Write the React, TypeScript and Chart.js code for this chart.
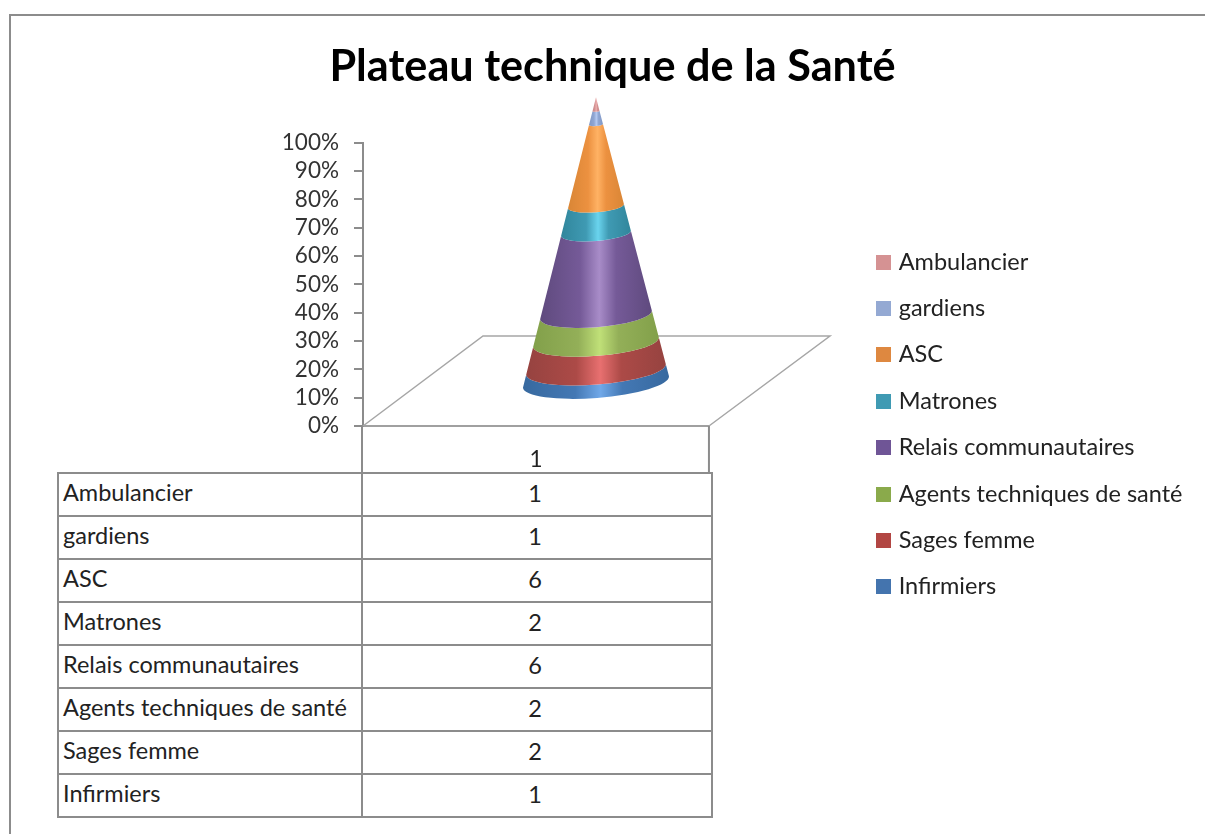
import React, { useEffect, useRef } from "react";
import { Chart, registerables } from "chart.js";

Chart.register(...registerables);

const chartTitle = "Plateau technique de la Santé";
const categoryLabels = ["1"];
// top-to-bottom, as in the table and legend
const roles = ["Ambulancier", "gardiens", "ASC", "Matrones", "Relais communautaires", "Agents techniques de santé", "Sages femme", "Infirmiers"];
const counts = [1, 1, 6, 2, 6, 2, 2, 1];
const legendColors = ["#D59293", "#94A9D3", "#DE8840", "#3F9AB3", "#6F5596", "#8AAA4B", "#B24643", "#4474AE"];
const edgeColors = ["#C98A8A", "#8097C4", "#D98636", "#31869C", "#5F4A7E", "#82A04A", "#964340", "#37699F"];
const midColors = ["#D59293", "#8FA6D3", "#EC9140", "#3F9AB3", "#755A98", "#93AF58", "#AC4A47", "#4478B4"];
const lightColors = ["#F0B4B4", "#B4C8F0", "#FFB264", "#6AD4EE", "#A88CC8", "#C0E078", "#E87070", "#70A8E8"];

const total = counts.reduce((a, b) => a + b, 0);
const GRAY = "#8c8c8c";

const swatch = (color: string) => {
  const c = document.createElement("canvas");
  c.width = 15;
  c.height = 15;
  const g = c.getContext("2d")!;
  g.fillStyle = color;
  g.fillRect(0, 0, 15, 15);
  return c;
};

const conePlugin = {
  id: "cone3d",
  beforeDatasetsDraw(chart: any) {
    const { ctx, scales } = chart;
    const x = scales.x, y = scales.y;
    const y0 = y.getPixelForValue(0);
    ctx.save();
    ctx.strokeStyle = "#a6a6a6";
    ctx.lineWidth = 1.5;
    ctx.beginPath();
    ctx.moveTo(x.left, y0);
    ctx.lineTo(x.left + 120, y0 - 90);
    ctx.lineTo(x.right + 121, y0 - 90);
    ctx.lineTo(x.right, y0);
    ctx.stroke();
    ctx.strokeStyle = GRAY;
    ctx.lineWidth = 2;
    ctx.beginPath();
    ctx.moveTo(x.left - 1, y0);
    ctx.lineTo(x.left - 1, y0 + 47);
    ctx.moveTo(x.right, y0);
    ctx.lineTo(x.right, y0 + 47);
    ctx.stroke();
    ctx.restore();
  },
  beforeDatasetDraw() {
    return false;
  },
  afterDatasetsDraw(chart: any) {
    const { ctx, scales } = chart;
    const y = scales.y;
    const n = chart.data.datasets.length;
    const y0 = y.getPixelForValue(0);
    const unit = y0 - y.getPixelForValue(100);
    const rot = -0.078;
    const halfW = 73.5;
    const halfD = 16;
    const level = (px: number, cx: number) => {
      const t = (y0 - px) / unit;
      return { cx, cy: px - 43 - 2.5 * t, a: halfW * (1 - t), b: halfD * (1 - t) };
    };
    for (let i = 0; i < n; i++) {
      const bar = chart.getDatasetMeta(i).data[0];
      const cx = bar.x + 60;
      const lo = level(bar.base, cx);
      const hi = level(bar.y, cx);
      const src = n - 1 - i;
      const g = ctx.createLinearGradient(cx - lo.a, 0, cx + lo.a, 0);
      g.addColorStop(0, edgeColors[src]);
      g.addColorStop(0.36, midColors[src]);
      g.addColorStop(0.53, lightColors[src]);
      g.addColorStop(0.68, midColors[src]);
      g.addColorStop(1, edgeColors[src]);
      ctx.save();
      ctx.fillStyle = g;
      ctx.beginPath();
      ctx.ellipse(lo.cx, lo.cy, lo.a, lo.b, rot, Math.PI, 0, true);
      if (hi.a > 0.01) ctx.ellipse(hi.cx, hi.cy, hi.a, hi.b, rot, 0, Math.PI, false);
      else ctx.lineTo(hi.cx, hi.cy);
      ctx.closePath();
      ctx.fill();
      ctx.restore();
    }
  },
};

export default function App() {
  const ref = useRef<HTMLCanvasElement>(null);
  useEffect(() => {
    const font = "Lato";
    const chart = new Chart(ref.current!, {
      type: "bar",
      plugins: [conePlugin],
      data: {
        labels: categoryLabels,
        datasets: roles
          .map((r, i) => ({ label: r, data: [(counts[i] / total) * 100], backgroundColor: legendColors[i], stack: "s" }))
          .reverse(),
      },
      options: {
        animation: false,
        responsive: false,
        layout: { padding: { left: 22.5, right: 22.5 } },
        plugins: {
          tooltip: { enabled: false },
          title: {
            display: true,
            text: chartTitle,
            color: "#000",
            font: { family: font, size: 43.2, weight: "bold" },
            padding: { top: 26, bottom: 50 },
          },
          legend: {
            position: "right",
            reverse: true,
            maxWidth: 400,
            labels: {
              color: "#222",
              font: { family: font, size: 23.5 },
              usePointStyle: true,
              boxHeight: 15,
              pointStyleWidth: 7,
              padding: 22.9,
              generateLabels: (c: any) =>
                Chart.defaults.plugins.legend.labels.generateLabels(c).map((item: any) => ({
                  ...item,
                  pointStyle: swatch(item.fillStyle),
                })),
            },
          },
        },
        scales: {
          x: {
            stacked: true,
            grid: { display: false },
            border: { display: true, color: "#a0a0a0", width: 2 },
            ticks: { color: "#222", font: { family: font, size: 22.5 }, padding: 12 },
            afterFit: (s: any) => { s.height = 408; },
          },
          y: {
            stacked: true,
            min: 0,
            max: 100,
            grid: { drawOnChartArea: false, color: GRAY, lineWidth: 2, tickLength: 9 },
            border: { color: GRAY, width: 2 },
            ticks: { stepSize: 10, autoSkip: false, color: "#333", font: { family: font, size: 22.5 }, padding: 15, callback: (v: any) => v + "%" },
            afterFit: (s: any) => { s.width = 330.5; },
          },
          gap: {
            type: "linear",
            position: "right",
            display: true,
            grid: { display: false },
            border: { display: false },
            ticks: { display: false },
            afterFit: (s: any) => { s.width = 148.1; },
          },
        },
      },
    } as any);
    return () => chart.destroy();
  }, []);

  return (
    <div style={{ position: "fixed", inset: 0, overflow: "hidden", background: "#fff" }}>
      <div style={{ position: "absolute", left: 9, top: 14, width: 1300, height: 1000, border: `2px solid ${GRAY}` }} />
      <canvas ref={ref} width={1205} height={819} style={{ position: "absolute", left: 10, top: 15, width: 1205, height: 819 }} />
      <table
        style={{
          position: "absolute",
          left: 57,
          top: 472,
          width: 654,
          borderCollapse: "collapse",
          tableLayout: "fixed",
          fontFamily: "Lato",
          fontSize: 23.5,
          color: "#222",
          background: "#fff",
        }}
      >
        <colgroup>
          <col style={{ width: 304 }} />
          <col style={{ width: 350 }} />
        </colgroup>
        <tbody>
          {roles.map((r, i) => (
            <tr key={r} style={{ height: 43 }}>
              <td style={{ border: `2px solid ${GRAY}`, padding: "0 0 4px 4px", whiteSpace: "nowrap", lineHeight: 1 }}>{r}</td>
              <td style={{ border: `2px solid ${GRAY}`, padding: "0 4px 2px 0", textAlign: "center", lineHeight: 1 }}>{counts[i]}</td>
            </tr>
          ))}
        </tbody>
      </table>
    </div>
  );
}
